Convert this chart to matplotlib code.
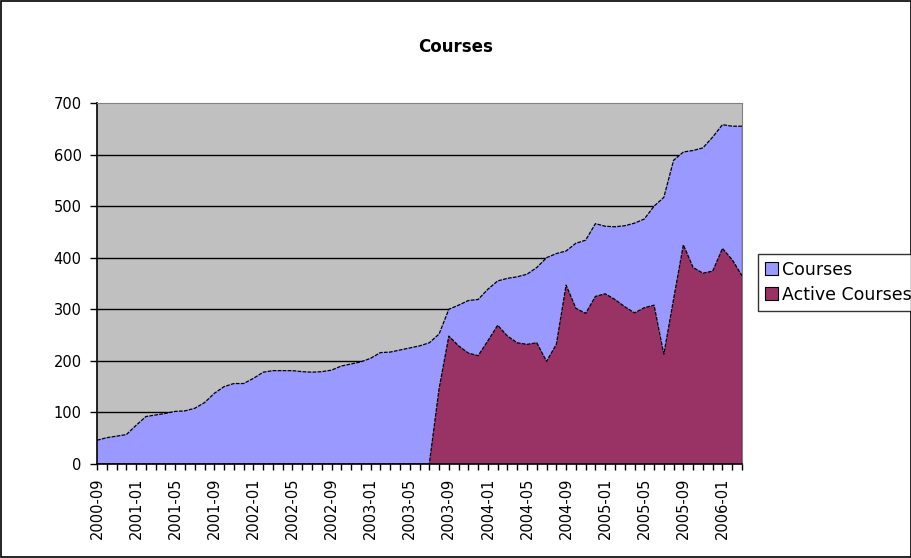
import matplotlib
matplotlib.use("Agg")
import matplotlib.pyplot as plt
from matplotlib.patches import Rectangle, Patch

plt.rcParams['font.family'] = ['DejaVu Sans']

# Monthly categories 2000-09 .. 2006-03
months = [f"{2000 + (8 + k) // 12}-{(8 + k) % 12 + 1:02d}" for k in range(67)]

courses = [46, 51, 54, 57, 75, 92, 95, 98, 102, 103,
           108, 119, 137, 150, 156, 156, 166, 178, 181, 181,
           181, 179, 178, 179, 182, 190, 194, 198, 205, 216,
           217, 221, 225, 229, 235, 252, 300, 308, 317, 319,
           339, 355, 360, 363, 368, 381, 400, 408, 413, 428,
           434, 466, 461, 460, 462, 467, 475, 500, 517, 589,
           605, 608, 613, 634, 658, 655, 655]

active = [0] * 34 + [0, 146, 248, 229, 215, 210,
                     239, 269, 248, 235, 232, 235, 199, 232, 347, 302,
                     292, 325, 330, 319, 305, 293, 303, 308, 213, 320,
                     425, 381, 370, 374, 418, 396, 365]

series_names = ["Courses", "Active Courses"]
series_colors = ["#9999FF", "#993366"]
yticks = [0, 100, 200, 300, 400, 500, 600, 700]

fig = plt.figure(figsize=(9.12, 5.58), dpi=100)
fig.patch.set_facecolor("white")
fig.patches.append(Rectangle((0.001, 0.001), 0.998, 0.997, transform=fig.transFigure,
                             fill=False, edgecolor="black", linewidth=1.2))

ax = fig.add_axes([0.1064, 0.1685, 0.7072, 0.6469])
ax.set_facecolor("#C0C0C0")

x = list(range(len(months)))
ax.set_xlim(0, len(months) - 1)
ax.set_ylim(0, 700)

for yv in yticks[1:-1]:
    ax.axhline(yv, color="black", linewidth=1.0, zorder=1)

ls = (0, (3, 1))
ax.fill_between(x, 0, courses, facecolor=series_colors[0], edgecolor="none", zorder=2)
ax.plot(x, courses, color="black", linewidth=0.9, linestyle=ls, zorder=3)
ax.fill_between(x, 0, active, facecolor=series_colors[1], edgecolor="none", zorder=4)
ax.plot(x, active, color="black", linewidth=0.9, linestyle=ls, zorder=5)
ax.plot([x[-1], x[-1]], [0, courses[-1]], color="black", linewidth=0.9, zorder=5)

ax.set_yticks(yticks)
ax.set_yticklabels([str(v) for v in yticks], fontsize=10.5)
ax.set_xticks(x, minor=True)
ax.set_xticks(x[::4])
ax.set_xticklabels(months[::4], rotation=90, fontsize=10.5)
ax.tick_params(axis="x", which="both", direction="out", length=4.5, width=1, color="black", pad=5.5)
ax.tick_params(axis="y", direction="out", length=5, width=1, color="black", pad=6)

ax.spines["left"].set_color("black")
ax.spines["bottom"].set_color("black")
ax.spines["left"].set_linewidth(1.2)
ax.spines["bottom"].set_linewidth(1.2)
ax.spines["top"].set_color("#808080")
ax.spines["right"].set_color("#808080")
ax.spines["bottom"].set_zorder(6)

fig.text(0.5, 0.915, "Courses", ha="center", va="center", fontsize=12, fontweight="bold")

handles = [Patch(facecolor=c, edgecolor="black", linewidth=0.8) for c in series_colors]
leg = fig.legend(handles, series_names, loc="upper left", bbox_to_anchor=(0.831, 0.545),
                 fontsize=12.5, frameon=True, fancybox=False, edgecolor="black",
                 handlelength=0.75, handleheight=0.75, handletextpad=0.25,
                 borderpad=0.4, labelspacing=0.4, borderaxespad=0)
leg.get_frame().set_linewidth(1.0)

fig.savefig("out.png", dpi=100)
